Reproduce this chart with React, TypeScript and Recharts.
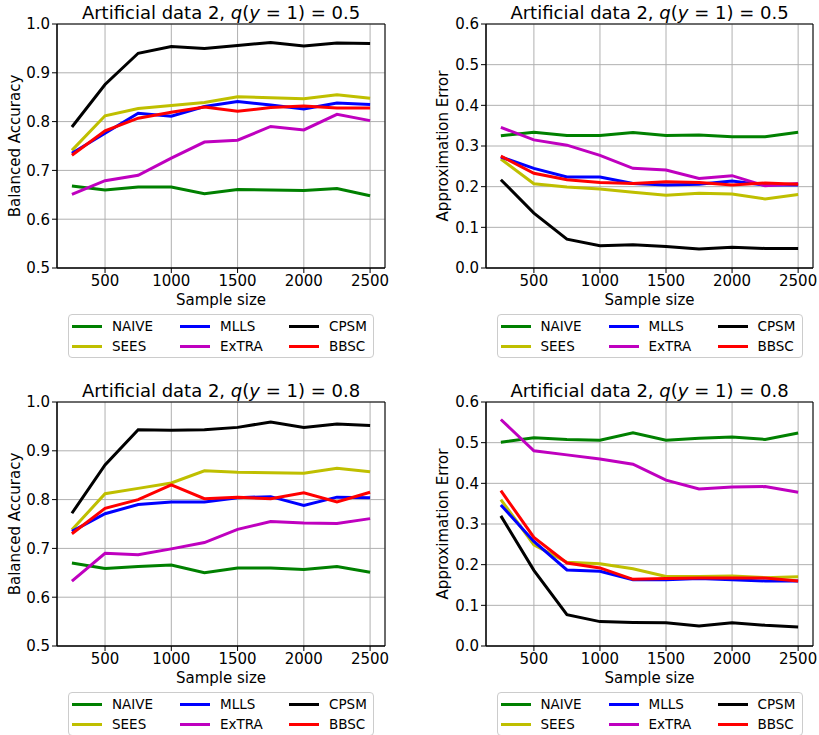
import React from 'react'
import { LineChart, Line, XAxis, YAxis, CartesianGrid, ReferenceArea, Legend } from 'recharts'

const sampleSizes = [250, 500, 750, 1000, 1250, 1500, 1750, 2000, 2250, 2500]
const xTicks = [500, 1000, 1500, 2000, 2500]
const accTicks = [0.5, 0.6, 0.7, 0.8, 0.9, 1.0]
const errTicks = [0, 0.1, 0.2, 0.3, 0.4, 0.5, 0.6]

const methods = ['NAIVE', 'SEES', 'MLLS', 'ExTRA', 'CPSM', 'BBSC']
const colors = ['#008000', '#bfbf00', '#0000ff', '#bf00bf', '#000000', '#ff0000']

// balanced accuracy, q(y=1) = 0.5
const acc05Naive = [0.668, 0.66, 0.666, 0.666, 0.652, 0.661, 0.66, 0.659, 0.663, 0.648]
const acc05Sees = [0.741, 0.812, 0.827, 0.833, 0.839, 0.851, 0.849, 0.847, 0.855, 0.848]
const acc05Mlls = [0.735, 0.776, 0.817, 0.811, 0.831, 0.841, 0.834, 0.826, 0.838, 0.835]
const acc05Extra = [0.651, 0.679, 0.69, 0.725, 0.758, 0.762, 0.79, 0.783, 0.815, 0.802]
const acc05Cpsm = [0.789, 0.876, 0.94, 0.954, 0.95, 0.956, 0.962, 0.955, 0.961, 0.96]
const acc05Bbsc = [0.731, 0.781, 0.807, 0.819, 0.83, 0.821, 0.829, 0.832, 0.828, 0.828]

// approximation error, q(y=1) = 0.5
const err05Naive = [0.325, 0.334, 0.326, 0.326, 0.333, 0.326, 0.327, 0.323, 0.323, 0.334]
const err05Sees = [0.268, 0.207, 0.199, 0.194, 0.186, 0.179, 0.184, 0.182, 0.17, 0.181]
const err05Mlls = [0.273, 0.245, 0.224, 0.224, 0.208, 0.204, 0.206, 0.214, 0.204, 0.204]
const err05Extra = [0.346, 0.315, 0.302, 0.277, 0.245, 0.241, 0.22, 0.227, 0.202, 0.208]
const err05Cpsm = [0.217, 0.135, 0.071, 0.055, 0.057, 0.053, 0.047, 0.051, 0.048, 0.048]
const err05Bbsc = [0.275, 0.233, 0.217, 0.21, 0.208, 0.212, 0.21, 0.204, 0.209, 0.206]

// balanced accuracy, q(y=1) = 0.8
const acc08Naive = [0.67, 0.659, 0.663, 0.666, 0.65, 0.66, 0.66, 0.657, 0.663, 0.651]
const acc08Sees = [0.738, 0.812, 0.823, 0.834, 0.859, 0.856, 0.855, 0.854, 0.864, 0.857]
const acc08Mlls = [0.735, 0.771, 0.79, 0.795, 0.795, 0.804, 0.806, 0.788, 0.805, 0.804]
const acc08Extra = [0.633, 0.69, 0.687, 0.699, 0.712, 0.739, 0.755, 0.752, 0.751, 0.761]
const acc08Cpsm = [0.772, 0.871, 0.943, 0.942, 0.943, 0.948, 0.959, 0.948, 0.955, 0.952]
const acc08Bbsc = [0.73, 0.782, 0.8, 0.83, 0.802, 0.805, 0.802, 0.814, 0.795, 0.815]

// approximation error, q(y=1) = 0.8
const err08Naive = [0.501, 0.512, 0.508, 0.506, 0.524, 0.506, 0.511, 0.514, 0.508, 0.524]
const err08Sees = [0.36, 0.249, 0.206, 0.202, 0.19, 0.171, 0.171, 0.172, 0.168, 0.17]
const err08Mlls = [0.347, 0.257, 0.187, 0.184, 0.163, 0.163, 0.166, 0.163, 0.16, 0.16]
const err08Extra = [0.557, 0.48, 0.47, 0.46, 0.447, 0.408, 0.386, 0.391, 0.392, 0.378]
const err08Cpsm = [0.32, 0.186, 0.077, 0.06, 0.058, 0.057, 0.049, 0.057, 0.051, 0.047]
const err08Bbsc = [0.382, 0.267, 0.204, 0.192, 0.164, 0.166, 0.167, 0.167, 0.167, 0.16]

const buildRows = (series: number[][]) =>
  sampleSizes.map((n, i) => {
    const row: Record<string, number> = { n }
    methods.forEach((m, k) => {
      row[m] = series[k][i]
    })
    return row
  })

const FONT = '"DejaVu Sans", sans-serif'

const LegendBox = () => (
  <div
    style={{
      width: 306,
      height: 44,
      boxSizing: 'border-box',
      border: '1px solid #cccccc',
      borderRadius: 4,
      background: 'rgba(255,255,255,0.8)',
      paddingTop: 1,
      display: 'grid',
      gridTemplateColumns: '108px 109px 86px',
      gridTemplateRows: '20px 20px',
      gridAutoFlow: 'column',
      fontFamily: FONT,
      fontSize: 13.5,
      color: '#000'
    }}
  >
    {methods.map((m, i) => (
      <div key={m} style={{ display: 'flex', alignItems: 'center' }}>
        <span style={{ width: 30, height: 3, background: colors[i], marginLeft: 3, marginRight: 10 }} />
        <span>{m}</span>
      </div>
    ))}
  </div>
)

interface PanelProps {
  left: number
  top: number
  width: number
  yAxisWidth: number
  marginRight: number
  q: string
  yLabel: string
  labelOffset: number
  yDomain: [number, number]
  yTicks: number[]
  series: number[][]
}

const Panel = ({ left, top, width, yAxisWidth, marginRight, q, yLabel, labelOffset, yDomain, yTicks, series }: PanelProps) => {
  const data = buildRows(series)
  const plotWidth = width - yAxisWidth - marginRight
  const legendLeft = yAxisWidth + plotWidth / 2 - 153
  return (
    <div style={{ position: 'absolute', left, top, width, height: 360 }}>
      <div
        style={{
          position: 'absolute',
          left: yAxisWidth,
          width: plotWidth,
          top: 2,
          textAlign: 'center',
          fontSize: 18,
          lineHeight: '21px',
          whiteSpace: 'nowrap',
          fontFamily: FONT,
          zIndex: 2
        }}
      >
        Artificial data 2, <i>q</i>(<i>y</i> = 1) = {q}
      </div>
      <LineChart
        width={width}
        height={360}
        data={data}
        margin={{ top: 24, right: marginRight, bottom: 52, left: 0 }}
        style={{ fontFamily: FONT }}
      >
        <CartesianGrid stroke="#b0b0b0" strokeWidth={1} />
        <XAxis
          dataKey="n"
          type="number"
          domain={[137.5, 2612.5]}
          ticks={xTicks}
          stroke="#000"
          tickSize={5}
          tickMargin={2}
          height={40}
          tick={{ fontSize: 15, fill: '#000' }}
          label={{ value: 'Sample size', position: 'insideBottom', offset: 3, fontSize: 15, fill: '#000' }}
        />
        <YAxis
          type="number"
          domain={yDomain}
          ticks={yTicks}
          width={yAxisWidth}
          stroke="#000"
          tickSize={5}
          tickMargin={2}
          tick={{ fontSize: 15, fill: '#000' }}
          tickFormatter={(v: number) => v.toFixed(1)}
          label={{
            value: yLabel,
            angle: -90,
            position: 'insideLeft',
            offset: labelOffset,
            fontSize: 15,
            fill: '#000',
            style: { textAnchor: 'middle' }
          }}
        />
        {methods.map((m, i) => (
          <Line
            key={m}
            dataKey={m}
            name={m}
            type="linear"
            stroke={colors[i]}
            strokeWidth={3}
            dot={false}
            activeDot={false}
            isAnimationActive={false}
          />
        ))}
        <ReferenceArea
          x1={137.5}
          x2={2612.5}
          y1={yDomain[0]}
          y2={yDomain[1]}
          fill="none"
          stroke="#000"
          strokeWidth={1}
        />
        <Legend
          layout="horizontal"
          verticalAlign="middle"
          align="center"
          wrapperStyle={{ top: 314, left: legendLeft, width: 306, height: 44 }}
          content={() => <LegendBox />}
        />
      </LineChart>
    </div>
  )
}

export default function App() {
  return (
    <div
      style={{
        position: 'absolute',
        left: 0,
        top: 0,
        width: 819,
        height: 735,
        overflow: 'hidden',
        background: '#fff',
        fontFamily: FONT
      }}
    >
      <Panel
        left={0}
        top={0}
        width={410}
        yAxisWidth={57}
        marginRight={25}
        q="0.5"
        yLabel="Balanced Accuracy"
        labelOffset={15}
        yDomain={[0.5, 1.0]}
        yTicks={accTicks}
        series={[acc05Naive, acc05Sees, acc05Mlls, acc05Extra, acc05Cpsm, acc05Bbsc]}
      />
      <Panel
        left={410}
        top={0}
        width={409}
        yAxisWidth={76}
        marginRight={6}
        q="0.5"
        yLabel="Approximation Error"
        labelOffset={33}
        yDomain={[0, 0.6]}
        yTicks={errTicks}
        series={[err05Naive, err05Sees, err05Mlls, err05Extra, err05Cpsm, err05Bbsc]}
      />
      <Panel
        left={0}
        top={378}
        width={410}
        yAxisWidth={57}
        marginRight={25}
        q="0.8"
        yLabel="Balanced Accuracy"
        labelOffset={15}
        yDomain={[0.5, 1.0]}
        yTicks={accTicks}
        series={[acc08Naive, acc08Sees, acc08Mlls, acc08Extra, acc08Cpsm, acc08Bbsc]}
      />
      <Panel
        left={410}
        top={378}
        width={409}
        yAxisWidth={76}
        marginRight={6}
        q="0.8"
        yLabel="Approximation Error"
        labelOffset={33}
        yDomain={[0, 0.6]}
        yTicks={errTicks}
        series={[err08Naive, err08Sees, err08Mlls, err08Extra, err08Cpsm, err08Bbsc]}
      />
    </div>
  )
}
